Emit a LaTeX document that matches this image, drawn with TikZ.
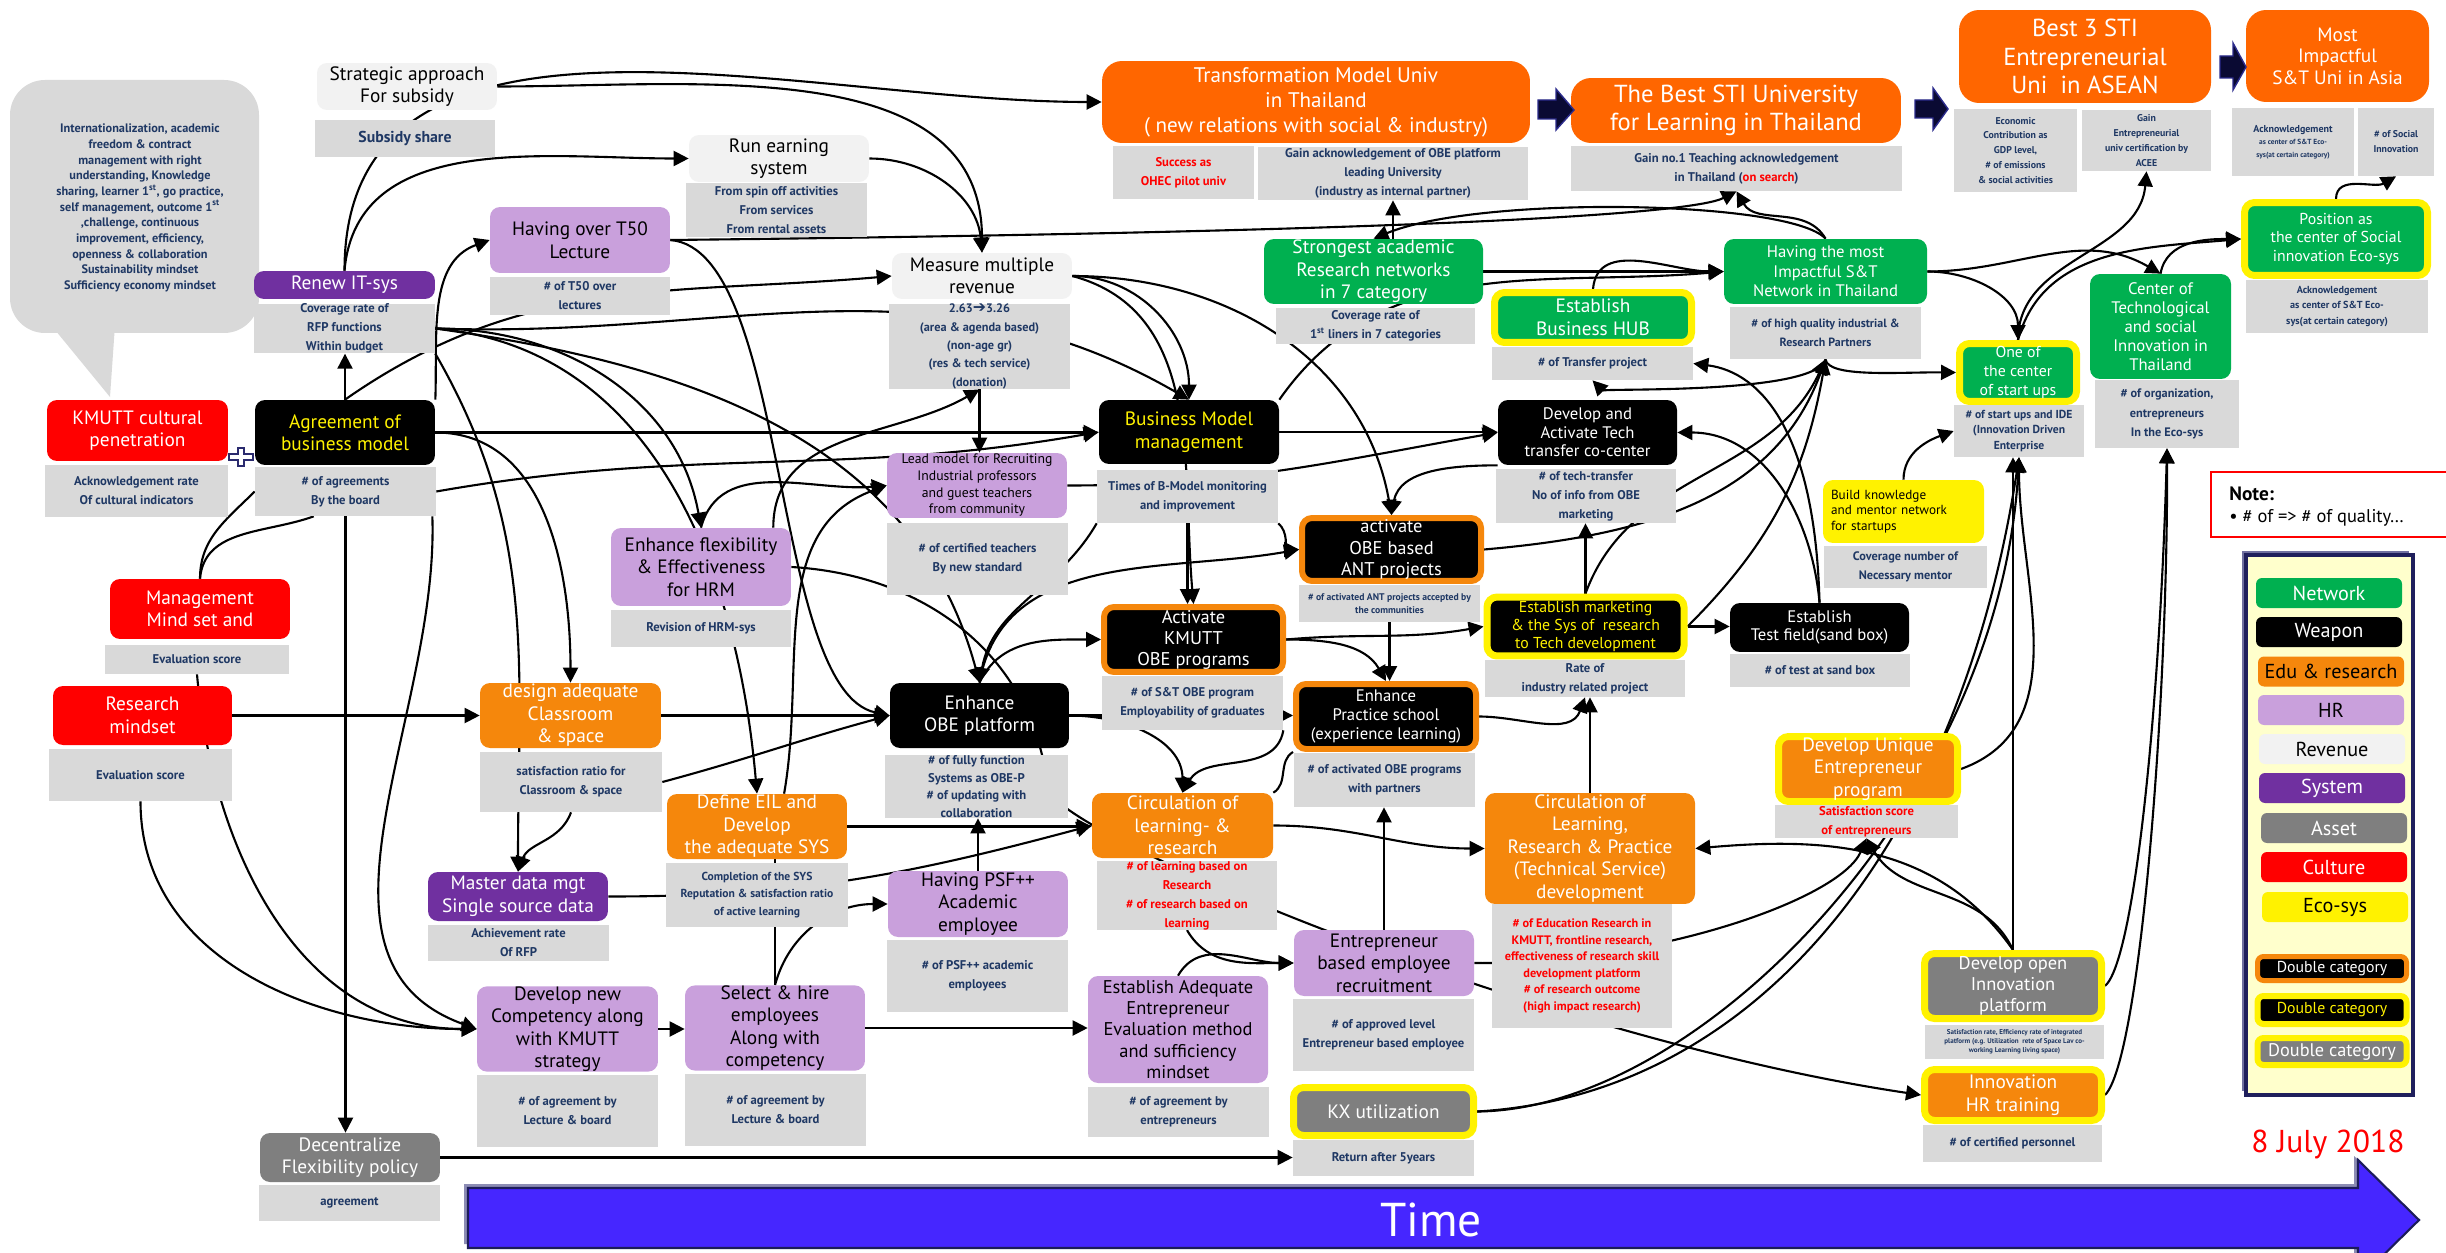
\documentclass[tikz,border=0pt]{standalone}
\usepackage{fontspec}
\setmainfont{PT Sans}
\newfontfamily\symf{DejaVu Sans}
\usepackage{xcolor}
\usetikzlibrary{arrows.meta,calc,backgrounds}
\definecolor{toporange}{HTML}{FF6600}
\definecolor{eduorange}{HTML}{F5870C}
\definecolor{netgreen}{HTML}{00B050}
\definecolor{hrpurple}{HTML}{C9A0DC}
\definecolor{revgray}{HTML}{F2F2F2}
\definecolor{syspurple}{HTML}{7030A0}
\definecolor{assetgray}{HTML}{7F7F7F}
\definecolor{mgray}{HTML}{D9D9D9}
\definecolor{mblue}{HTML}{1F3864}
\definecolor{arrownavy}{HTML}{0A0A33}
\definecolor{arrowrim}{HTML}{2B2B8C}
\definecolor{timeblue}{HTML}{4626FF}
\definecolor{timerim}{HTML}{1C1C5A}
\definecolor{timeshadow}{HTML}{8C8CB4}
\definecolor{legfill}{HTML}{FFFFCC}
\definecolor{legrim}{HTML}{1F1F5C}
\definecolor{legshadow}{HTML}{7070A0}
\definecolor{plusrim}{HTML}{2A2A6E}
\begin{document}
\begin{tikzpicture}[x=0.02cm,y=-0.02cm,
  tbox/.style={rounded corners=0.2cm, align=center, font=\fontsize{11}{12.8}\selectfont},
  topbox/.style={tbox, fill=toporange, text=white, rounded corners=0.4cm},
  netbox/.style={tbox, fill=netgreen, text=white},
  weapon/.style={tbox, fill=black, text=white},
  edubox/.style={tbox, fill=eduorange, text=white},
  hrbox/.style={tbox, fill=hrpurple, text=black},
  revbox/.style={tbox, fill=revgray, text=black},
  sysbox/.style={tbox, fill=syspurple, text=white},
  assetbox/.style={tbox, fill=assetgray, text=white},
  cultbox/.style={tbox, fill=red, text=white},
  ecorim/.style={draw=yellow, line width=0.14cm},
  edurim/.style={draw=eduorange, line width=0.12cm},
  metric/.style={fill=mgray, text=mblue, align=center, font=\bfseries\fontsize{7.2}{10.8}\selectfont},
  redmetric/.style={metric, text=red},
  legitem/.style={tbox, rounded corners=0.12cm, minimum width=2.92cm, minimum height=0.6cm, font=\fontsize{11.5}{13}\selectfont},
  conn/.style={line width=1.2pt, -{Triangle[length=0.3cm,width=0.3cm]}},
  link/.style={line width=1.2pt}]
\tikzstyle{every node}+=[inner sep=0pt]
\useasboundingbox (0,0) rectangle (2446,1253);

\fill[mgray, rounded corners=0.7cm] (10,80) rectangle (259,333);
\fill[mgray] (51,325) -- (110,397) -- (115,325) -- cycle;
\node[text=mblue, align=center, font=\bfseries\fontsize{7}{8.9}\selectfont] (values) at (140,208) {Internationalization, academic\\ freedom \& contract\\ management with right\\ understanding, Knowledge\\ sharing, learner 1\textsuperscript{st}, go practice,\\ self management, outcome 1\textsuperscript{st}\\ ,challenge, continuous\\ improvement, efficiency,\\ openness \& collaboration\\ Sustainability mindset\\ Sufficiency economy mindset};

\node[revbox, minimum width=3.6cm, minimum height=0.94cm] (strat) at (407,86.5) {Strategic approach\\ For subsidy};
\node[metric, font=\bfseries\fontsize{9}{11}\selectfont, minimum width=3.6cm, minimum height=0.74cm] (stratm) at (405,138.5) {Subsidy share};
\node[sysbox, minimum width=3.62cm, minimum height=0.56cm] (renew) at (344.5,285) {Renew IT-sys};
\node[metric, minimum width=3.62cm, minimum height=0.98cm] (renewm) at (344.5,328.5) {Coverage rate of\\ RFP functions\\ Within budget};
\node[hrbox, minimum width=3.6cm, minimum height=1.32cm] (t50) at (580,240) {Having over T50\\ Lecture};
\node[metric, minimum width=3.6cm, minimum height=0.76cm] (t50m) at (580,296) {\# of T50 over\\ lectures};
\node[revbox, minimum width=3.6cm, minimum height=0.94cm] (earn) at (779,158.5) {Run earning\\ system};
\node[metric, minimum width=3.62cm, minimum height=1.08cm] (earnm) at (776.5,210) {From spin off activities\\ From services\\ From rental assets};
\node[revbox, minimum width=3.6cm, minimum height=0.92cm] (measure) at (982,276) {Measure multiple\\ revenue};
\node[metric, font=\bfseries\fontsize{7}{10.5}\selectfont, minimum width=3.62cm, minimum height=1.7cm] (measurem) at (979.5,346.5) {2.63{\symf\fontsize{9}{10.5}\selectfont ➔}3.26\\ (area \& agenda based)\\ (non-age gr)\\ (res \& tech service)\\ (donation)};

\node[topbox, font=\fontsize{12}{14.2}\selectfont, minimum width=8.56cm, minimum height=1.64cm] (transf) at (1316,102) {Transformation Model Univ\\ in Thailand\\ ( new relations with social \& industry)};
\node[redmetric, minimum width=2.82cm, minimum height=1.06cm] (transfm1) at (1183.5,172.5) {Success as\\ OHEC pilot univ};
\node[metric, minimum width=5.4cm, minimum height=1.06cm] (transfm2) at (1393,173.5) {Gain acknowledgement of OBE platform\\ leading University\\ (industry as internal partner)};
\node[topbox, font=\fontsize{14}{16}\selectfont, minimum width=6.6cm, minimum height=1.3cm] (best) at (1736,110.5) {The Best STI University\\ for Learning in Thailand};
\node[metric, minimum width=6.62cm, minimum height=0.9cm] (bestm) at (1736.5,168.5) {Gain no.1 Teaching acknowledgement\\ in Thailand (\textcolor{red}{on search})};
\node[topbox, font=\fontsize{14}{16}\selectfont, minimum width=5.04cm, minimum height=1.86cm] (best3) at (2085,56.5) {Best 3 STI\\ Entrepreneurial\\ Uni\ \ in ASEAN};
\node[metric, font=\bfseries\fontsize{5.6}{8.5}\selectfont, minimum width=2.46cm, minimum height=1.66cm] (best3ma) at (2015.5,150.5) {Economic\\ Contribution as\\ GDP level,\\ \# of emissions\\ \& social activities};
\node[metric, font=\bfseries\fontsize{5.6}{8.5}\selectfont, minimum width=2.58cm, minimum height=1.22cm] (best3mb) at (2146.5,140.5) {Gain\\ Entrepreneurial\\ univ certification by\\ ACEE};
\node[topbox, font=\fontsize{11}{12.3}\selectfont, minimum width=3.66cm, minimum height=1.84cm] (most) at (2337.5,56) {Most\\ Impactful\\ S\&T Uni in Asia};
\node[metric, font=\bfseries\fontsize{5.7}{7}\selectfont, minimum width=2.44cm, minimum height=1.36cm] (mostma) at (2293,142) {Acknowledgement\\ {\fontsize{4.2}{7}\selectfont as center of S\&T Eco-}\\ {\fontsize{4.2}{7}\selectfont sys(at certain category)}};
\node[metric, font=\bfseries\fontsize{5.6}{8.5}\selectfont, minimum width=1.52cm, minimum height=1.36cm] (mostmb) at (2396,142) {\# of Social\\ Innovation};
\filldraw[fill=arrownavy, draw=arrowrim, line width=0.8pt] (1538,100) -- (1556,100) -- (1556,89) -- (1574,110) -- (1556,130) -- (1556,119) -- (1538,119) -- cycle;
\filldraw[fill=arrownavy, draw=arrowrim, line width=0.8pt] (1915,100) -- (1933,100) -- (1933,88) -- (1948,109) -- (1933,130) -- (1933,118) -- (1915,118) -- cycle;
\filldraw[fill=arrownavy, draw=arrowrim, line width=0.8pt] (2220,56) -- (2233,56) -- (2233,43) -- (2246,67) -- (2233,90) -- (2233,78) -- (2220,78) -- cycle;

\node[netbox, minimum width=4.38cm, minimum height=1.3cm] (strong) at (1373.5,271.5) {Strongest academic\\ Research networks\\ in 7 category};
\node[metric, minimum width=3.98cm, minimum height=0.72cm] (strongm) at (1375.5,326) {Coverage rate of\\ 1\textsuperscript{st} liners in 7 categories};
\node[netbox, ecorim, minimum width=3.94cm, minimum height=1.0cm] (hub) at (1593,317.5) {Establish\\ Business HUB};
\node[metric, minimum width=4.02cm, minimum height=0.66cm] (hubm) at (1592.5,363.5) {\# of Transfer project};
\node[netbox, font=\fontsize{9.5}{11}\selectfont, minimum width=4.06cm, minimum height=1.3cm] (having) at (1825.5,271.5) {Having the most\\ Impactful S\&T\\ Network in Thailand};
\node[metric, font=\bfseries\fontsize{6.8}{10.5}\selectfont, minimum width=3.82cm, minimum height=1.04cm] (havingm) at (1825.5,333) {\# of high quality industrial \&\\ Research Partners};
\node[weapon, font=\fontsize{9.5}{10.5}\selectfont, minimum width=3.58cm, minimum height=1.3cm] (devtech) at (1587.5,432.5) {Develop and\\ Activate Tech\\ transfer co-center};
\node[metric, minimum width=3.6cm, minimum height=1.08cm] (devtechm) at (1586,496) {\# of tech-transfer\\ No of info from OBE\\ marketing};
\node[netbox, ecorim, font=\fontsize{9}{10.5}\selectfont, minimum width=3.66cm, minimum height=1.46cm] (position) at (2336,239) {Position as\\ the center of Social\\ innovation Eco-sys};
\node[metric, font=\bfseries\fontsize{5.8}{9}\selectfont, minimum width=3.64cm, minimum height=1.06cm] (positionm) at (2337,306.5) {Acknowledgement\\ as center of S\&T Eco-\\ sys(at certain category)};
\node[netbox, font=\fontsize{9.5}{10.8}\selectfont, minimum width=2.82cm, minimum height=2.1cm] (centech) at (2160.5,326.5) {Center of\\ Technological\\ and social\\ Innovation in\\ Thailand};
\node[metric, font=\bfseries\fontsize{7}{11}\selectfont, minimum width=2.88cm, minimum height=1.36cm] (centechm) at (2167,414) {\# of organization,\\ entrepreneurs\\ In the Eco-sys};
\node[netbox, ecorim, font=\fontsize{9}{10.8}\selectfont, minimum width=2.34cm, minimum height=1.16cm] (onec) at (2018,372.5) {One of\\ the center\\ of start ups};
\node[metric, font=\bfseries\fontsize{6.6}{9}\selectfont, minimum width=2.6cm, minimum height=1.04cm] (onecm) at (2019,431) {\# of start ups and IDE\\ (Innovation Driven\\ Enterprise};
\node[tbox, fill=yellow, text=black, align=left, text width=2.9cm, font=\fontsize{7.5}{9}\selectfont, minimum width=3.22cm, minimum height=1.26cm] (build) at (1903.5,511.5) {Build knowledge\\ and mentor network\\ for startups};
\node[metric, font=\bfseries\fontsize{7}{10.8}\selectfont, minimum width=3.26cm, minimum height=0.84cm] (buildm) at (1905.5,567) {Coverage number of\\ Necessary mentor};
\node[weapon, font=\fontsize{9.5}{10.5}\selectfont, minimum width=3.58cm, minimum height=0.98cm] (testf) at (1819.5,627.5) {Establish\\ Test field(sand box)};
\node[metric, minimum width=3.6cm, minimum height=0.66cm] (testfm) at (1820,670.5) {\# of test at sand box};

\node[draw=red, line width=1.2pt, fill=white, minimum width=4.98cm, minimum height=1.3cm] (note) at (2335.5,504.5) {};
\node[anchor=west, font=\bfseries\fontsize{11}{13}\selectfont] (notehead) at (2229,494) {Note:};
\node[anchor=west, font=\fontsize{10.5}{12}\selectfont] (notetext) at (2229,518) {\textbullet\ \# of => \# of quality…};

\fill[legshadow] (2242,551) rectangle (2409,1091);
\node[draw=legrim, fill=legfill, line width=2pt, minimum width=3.34cm, minimum height=10.8cm] (legend) at (2329.5,825) {};
\node[legitem, fill=netgreen, text=white] (lgnet) at (2329,593) {Network};
\node[legitem, fill=black, text=white] (lgweapon) at (2329,632) {Weapon};
\node[legitem, fill=eduorange, text=black] (lgedu) at (2331,671.5) {Edu \& research};
\node[legitem, fill=hrpurple, text=black] (lghr) at (2331,710) {HR};
\node[legitem, fill=revgray, text=black] (lgrev) at (2332,749) {Revenue};
\node[legitem, fill=syspurple, text=white] (lgsys) at (2332,788) {System};
\node[legitem, fill=assetgray, text=white] (lgasset) at (2334,828) {Asset};
\node[legitem, fill=red, text=white] (lgcult) at (2334,867) {Culture};
\node[legitem, fill=yellow, text=black] (lgeco) at (2335,907) {Eco-sys};
\node[legitem, fill=black, text=white, draw=eduorange, line width=0.1cm, minimum width=2.98cm, minimum height=0.48cm, font=\fontsize{9}{10}\selectfont] (lgdouble) at (2332,968.5) {Double category};
\node[legitem, fill=black, text=yellow, draw=yellow, line width=0.12cm, minimum width=2.98cm, minimum height=0.56cm, font=\fontsize{9}{10}\selectfont] (lgdoubleb) at (2332,1010) {Double category};
\node[legitem, fill=assetgray, text=white, draw=yellow, line width=0.12cm, minimum width=2.98cm, minimum height=0.54cm, font=\fontsize{10.4}{11}\selectfont] (lgdoublec) at (2332,1051.5) {Double category};

\node[cultbox, minimum width=3.62cm, minimum height=1.22cm] (kmutt) at (137.5,430.5) {KMUTT cultural\\ penetration};
\node[metric, minimum width=3.66cm, minimum height=1.04cm] (kmuttm) at (136.5,491) {Acknowledgement rate\\ Of cultural indicators};
\filldraw[fill=white, draw=plusrim, line width=1pt] (238,448) -- (244,448) -- (244,454) -- (253,454) -- (253,460) -- (244,460) -- (244,466) -- (238,466) -- (238,460) -- (229,460) -- (229,454) -- (238,454) -- cycle;
\node[weapon, text=yellow, minimum width=3.6cm, minimum height=1.3cm] (agree) at (345,432.5) {Agreement of\\ business model};
\node[metric, minimum width=3.62cm, minimum height=0.98cm] (agreem) at (345.5,491.5) {\# of agreements\\ By the board};
\node[cultbox, minimum width=3.6cm, minimum height=1.2cm] (mgmt) at (200,609) {Management\\ Mind set and};
\node[metric, minimum width=3.68cm, minimum height=0.58cm] (mgmtm) at (197,659.5) {Evaluation score};
\node[cultbox, minimum width=3.58cm, minimum height=1.18cm] (rmind) at (142.5,715.5) {Research\\ mindset};
\node[metric, minimum width=3.66cm, minimum height=1.04cm] (rmindm) at (140.5,775) {Evaluation score};
\node[edubox, minimum width=3.62cm, minimum height=1.3cm] (design) at (570.5,715.5) {design adequate\\ Classroom\\ \& space};
\node[metric, minimum width=3.64cm, minimum height=1.2cm] (designm) at (571,782) {satisfaction ratio for\\ Classroom \& space};
\node[hrbox, font=\fontsize{7.8}{9.5}\selectfont, minimum width=3.6cm, minimum height=1.3cm] (lead) at (977,485.5) {Lead model for Recruiting\\ Industrial professors\\ and guest teachers\\ from community};
\node[metric, minimum width=3.62cm, minimum height=1.44cm] (leadm) at (977.5,559) {\# of certified teachers\\ By new standard};
\node[weapon, text=yellow, minimum width=3.6cm, minimum height=1.28cm] (biz) at (1189,432) {Business Model\\ management};
\node[metric, minimum width=3.62cm, minimum height=1.06cm] (bizm) at (1187.5,496.5) {Times of B-Model monitoring\\ and improvement};
\node[hrbox, minimum width=3.6cm, minimum height=1.56cm] (flex) at (701,567) {Enhance flexibility\\ \& Effectiveness\\ for HRM};
\node[metric, minimum width=3.6cm, minimum height=0.74cm] (flexm) at (701,628.5) {Revision of HRM-sys};
\node[weapon, edurim, font=\fontsize{10.5}{12}\selectfont, minimum width=3.58cm, minimum height=1.3cm] (activ) at (1193.5,639.5) {Activate\\ KMUTT\\ OBE programs};
\node[metric, minimum width=3.62cm, minimum height=1.08cm] (activm) at (1192.5,703) {\# of S\&T OBE program\\ Employability of graduates};
\node[weapon, minimum width=3.58cm, minimum height=1.3cm] (obe) at (979.5,715.5) {Enhance\\ OBE platform};
\node[metric, font=\bfseries\fontsize{7.2}{10}\selectfont, minimum width=3.66cm, minimum height=1.26cm] (obem) at (976.5,786.5) {\# of fully function\\ Systems as OBE-P\\ \# of updating with\\ collaboration};
\node[edubox, minimum width=3.6cm, minimum height=1.3cm] (define) at (757,826.5) {Define EIL and\\ Develop\\ the adequate SYS};
\node[metric, font=\bfseries\fontsize{6.6}{10}\selectfont, minimum width=3.64cm, minimum height=1.28cm] (definem) at (757,895) {Completion of the SYS\\ Reputation \& satisfaction ratio\\ of active learning};
\node[edubox, minimum width=3.62cm, minimum height=1.3cm] (circ) at (1182.5,825.5) {Circulation of\\ learning- \&\\ research};
\node[redmetric, minimum width=3.6cm, minimum height=1.3cm] (circm) at (1187,895.5) {\# of learning based on\\ Research\\ \# of research based on\\ learning};
\node[weapon, edurim, font=\fontsize{10.5}{12}\selectfont, minimum width=3.58cm, minimum height=1.26cm] (ant) at (1391.5,549.5) {activate\\ OBE based\\ ANT projects};
\node[metric, font=\bfseries\fontsize{5.5}{7.5}\selectfont, minimum width=3.62cm, minimum height=0.74cm] (antm) at (1389.5,603.5) {\# of activated ANT projects accepted by\\ the communities};
\node[weapon, ecorim, text=yellow, font=\fontsize{9}{10.5}\selectfont, minimum width=3.94cm, minimum height=1.18cm] (market) at (1585.5,626.5) {Establish marketing\\ \& the Sys of\ \ research\\ to Tech development};
\node[metric, minimum width=4cm, minimum height=0.74cm] (marketm) at (1585,678.5) {Rate of\\ industry related project};
\node[weapon, edurim, font=\fontsize{9.5}{11}\selectfont, minimum width=3.6cm, minimum height=1.3cm] (practice) at (1386,716.5) {Enhance\\ Practice school\\ (experience learning)};
\node[metric, minimum width=3.62cm, minimum height=1.08cm] (practicem) at (1384.5,780) {\# of activated OBE programs\\ with partners};
\node[edubox, minimum width=4.2cm, minimum height=2.22cm] (circtech) at (1590,848.5) {Circulation of\\ Learning,\\ Research \& Practice\\ (Technical Service)\\ development};
\node[redmetric, font=\bfseries\fontsize{7}{9.4}\selectfont, minimum width=3.6cm, minimum height=2.48cm] (circtechm) at (1582,966) {\# of Education Research in\\ KMUTT, frontline research,\\ effectiveness of research skill\\ development platform\\ \# of research outcome\\ (high impact research)};
\node[edubox, ecorim, minimum width=3.58cm, minimum height=1.3cm] (devuniq) at (1868,769) {Develop Unique\\ Entrepreneur\\ program};
\node[redmetric, minimum width=3.66cm, minimum height=0.66cm] (devuniqm) at (1866.5,821.5) {Satisfaction score\\ of entrepreneurs};
\node[sysbox, minimum width=3.6cm, minimum height=0.98cm] (master) at (518,896.5) {Master data mgt\\ Single source data};
\node[metric, minimum width=3.62cm, minimum height=0.72cm] (masterm) at (518.5,943) {Achievement rate\\ Of RFP};
\node[hrbox, minimum width=3.62cm, minimum height=1.68cm] (newcomp) at (567.5,1029) {Develop new\\ Competency along\\ with KMUTT\\ strategy};
\node[metric, minimum width=3.62cm, minimum height=1.44cm] (newcompm) at (567.5,1111) {\# of agreement by\\ Lecture \& board};
\node[assetbox, minimum width=3.6cm, minimum height=0.98cm] (decent) at (350,1157.5) {Decentralize\\ Flexibility policy};
\node[metric, minimum width=3.62cm, minimum height=0.72cm] (decentm) at (349.5,1203) {agreement};
\node[hrbox, minimum width=3.6cm, minimum height=1.32cm] (psf) at (978,904) {Having PSF++\\ Academic\\ employee};
\node[metric, minimum width=3.62cm, minimum height=1.44cm] (psfm) at (977.5,976) {\# of PSF++ academic\\ employees};
\node[hrbox, minimum width=3.6cm, minimum height=1.68cm] (select) at (775,1028) {Select \& hire\\ employees\\ Along with\\ competency};
\node[metric, minimum width=3.62cm, minimum height=1.44cm] (selectm) at (775.5,1110) {\# of agreement by\\ Lecture \& board};
\node[hrbox, font=\fontsize{10.5}{12.2}\selectfont, minimum width=3.6cm, minimum height=2.14cm] (estab) at (1178,1029.5) {Establish Adequate\\ Entrepreneur\\ Evaluation method\\ and sufficiency\\ mindset};
\node[metric, minimum width=3.62cm, minimum height=1.0cm] (estabm) at (1178.5,1112) {\# of agreement by\\ entrepreneurs};
\node[hrbox, minimum width=3.6cm, minimum height=1.32cm] (entre) at (1384,963) {Entrepreneur\\ based employee\\ recruitment};
\node[metric, minimum width=3.62cm, minimum height=1.44cm] (entrem) at (1383.5,1035) {\# of approved level\\ Entrepreneur based employee};
\node[assetbox, ecorim, minimum width=3.6cm, minimum height=0.96cm] (kx) at (1383.5,1111.5) {KX utilization};
\node[metric, minimum width=3.62cm, minimum height=0.72cm] (kxm) at (1383.5,1158) {Return after 5years};
\node[assetbox, ecorim, font=\fontsize{10.5}{12}\selectfont, minimum width=3.54cm, minimum height=1.3cm] (openi) at (2013,986) {Develop open\\ Innovation\\ platform};
\node[metric, font=\bfseries\fontsize{4}{5.2}\selectfont, minimum width=3.58cm, minimum height=0.68cm] (openim) at (2014.5,1042) {Satisfaction rate, Efficiency rate of integrated\\ platform (e.g. Utilization\ \ rete of Space Lav co-\\ working Learning living space)};
\node[edubox, ecorim, minimum width=3.54cm, minimum height=1.02cm] (innohr) at (2013,1095) {Innovation\\ HR training};
\node[metric, minimum width=3.58cm, minimum height=0.74cm] (innohrm) at (2012.5,1143.5) {\# of certified personnel};
\node[text=red, font=\fontsize{18}{20}\selectfont] (date) at (2328,1144) {8 July 2018};

\fill[timeshadow] (464,1184) -- (2354,1184) -- (2354,1156) -- (2415,1216) -- (2354,1276) -- (2354,1244) -- (464,1244) -- cycle;
\filldraw[fill=timeblue, draw=timerim, line width=1.2pt] (468,1188) -- (2358,1188) -- (2358,1160) -- (2419,1220) -- (2358,1280) -- (2358,1248) -- (468,1248) -- cycle;
\node[text=white, font=\fontsize{27}{30}\selectfont] (timelabel) at (1431,1220) {Time};

\begin{scope}[on background layer]
\fill[white] (0,0) rectangle (2446,1253);
\draw[conn] (renew.north) to[out=90,in=180] (transf.west);
\draw[conn] (renew.north) to[out=85,in=180] (earn.west);
\draw[conn] (strat.east) to[out=0,in=90] (measure.north);
\draw[conn] (earn.east) to[out=0,in=95] (measure.north);
\draw[conn] (agree.north) -- (agree.north |- renewm.south);
\draw[conn] (agree.north east) to[out=88,in=200] (t50.west);
\draw[conn] (agree.north) to[out=35,in=185] (measure.west);
\draw[conn] (agree.east) -- (agree.east -| biz.west);
\draw[conn] (agreem.east) to[out=10,in=190] (biz.west);
\draw[conn] (rmind.east) -- (rmind.east -| design.west);
\draw[conn] (agreem.south) -- (agreem.south |- decent.north);
\draw[conn] (decent.east) -- (decent.east -| kxm.west);
\draw[link] (mgmt.north) to[out=90,in=225] (agreem.west);
\draw[link] (mgmt.north) to[out=85,in=200] ($(agreem.south)!0.35!(agreem.south west)$);
\draw[conn] (mgmtm.south) to[out=-85,in=180] (newcomp.west);
\draw[conn] (rmindm.south) to[out=-90,in=180] (newcomp.west);
\draw[conn] ([xshift=-0.08cm]agreem.south east) to[out=-88,in=160] (newcomp.west);
\draw[conn] (agree.east) to[out=0,in=90] (design.north);
\draw[conn] (renewm.south east) to[out=-60,in=90] (master.north);
\draw[conn] (designm.south) to[out=-110,in=70] (master.north);
\draw[conn] (renewm.east) to[out=0,in=100] (flex.north);
\draw[conn] (renewm.east) to[out=-5,in=95] (define.north);
\draw[conn] (renewm.east) to[out=-8,in=105] (obe.north);
\draw[conn] (renewm.east) to[out=-2,in=150] (biz.north);
\draw[conn] (t50.east) .. controls (1400,232) and (1690,215) .. (bestm.south);
\draw[conn] (t50.east) .. controls (790,250) and (770,690) .. (obe.west);
\draw[conn] ($(flex.north)!0.8!(flex.north east)$) to[out=90,in=-150] (measurem.south);
\draw[conn] (measure.east) to[out=0,in=90] (biz.north);
\draw[conn] (measure.east) to[out=0,in=100] (ant.north);
\draw[conn] (measure.east) to[out=-15,in=95] (activ.north);
\draw[conn] (measurem.south) -- (measurem.south |- lead.north);
\draw[conn] (flex.north) to[out=75,in=185] (lead.west);
\draw[conn] ($(define.north)!0.3!(define.north east)$) to[out=80,in=200] (lead.west);
\draw[conn] (flex.east) .. controls (930,575) and (1035,660) .. (1048,790) .. controls (1070,840) and (1550,1040) .. (innohr.west);
\draw[conn] (design.east) -- (design.east -| obe.west);
\draw[conn] (designm.east) to[out=15,in=195] (obe.west);
\draw[conn] (obe.north) to[out=65,in=180] (activ.west);
\draw[conn] (obe.north) to[out=80,in=190] (ant.west);
\draw[conn] (bizm.south west) to[out=-120,in=80] (obe.north);
\draw[conn] (bizm.south) -- (bizm.south |- activ.north);
\draw[conn] (bizm.south east) to[out=-40,in=180] (ant.west);
\draw[conn] (biz.east) -- (biz.east -| devtech.west);
\draw[conn] (biz.north east) to[out=55,in=185] (having.west);
\draw[conn] (lead.east) to[out=0,in=190] (devtech.west);
\draw[conn] (obe.east) -- (obe.east -| practice.west);
\draw[conn] (obe.east) to[out=0,in=90] (circ.north);
\draw[conn] (activm.south east) to[out=-100,in=60] (circ.north);
\draw[link] (practice.south west) to[out=210,in=30] (circ.north east);
\draw[conn] (activ.east) to[out=0,in=120] (practice.north);
\draw[conn] (activ.east) to[out=5,in=190] (market.west);
\draw[conn] (antm.south) -- (antm.south |- practice.north);
\draw[conn] (ant.east) to[out=5,in=-110] (havingm.south);
\draw[conn] (devtech.south west) to[out=180,in=80] (ant.north);
\draw[conn] (market.north) -- (market.north |- devtechm.south);
\draw[conn] (market.north) to[out=70,in=-115] (havingm.south);
\draw[conn] (market.east) -- (market.east -| testf.west);
\draw[conn] (market.east) to[out=45,in=-100] (havingm.south);
\draw[conn] (practice.east) to[out=0,in=-110] (marketm.south);
\draw[conn] (circtech.north) -- (circtech.north |- marketm.south);
\draw[conn] (testf.north) to[out=95,in=0] (devtech.east);
\draw[conn] (testf.north) .. controls (1815,430) and (1760,372) .. (hubm.east);
\draw[conn] (havingm.south) .. controls (1815,395) and (1600,388) .. (hubm.south);
\draw[conn] (havingm.south) .. controls (1828,378) and (1900,372) .. (onec.west);
\draw[conn] (strong.east) -- (strong.east -| having.west);
\draw[conn] (hub.north) to[out=85,in=180] (having.west);
\draw[conn] (strong.north -| transfm2.south) -- (transfm2.south);
\draw[conn] (having.north) .. controls (1790,200) and (1480,195) .. (strong.north);
\draw[conn] (having.north) to[out=120,in=-60] (bestm.south);
\draw[conn] (having.east) to[out=0,in=150] (centech.north);
\draw[conn] (having.east) to[out=0,in=90] (onec.north);
\draw[conn] (centech.north) to[out=80,in=180] (position.west);
\draw[conn] (onec.north) to[out=75,in=185] (position.west);
\draw[conn] (onec.north) to[out=90,in=-95] (best3mb.south);
\draw[conn] (position.north) to[out=90,in=-150] (mostmb.south);
\draw[conn] (build.north) to[out=90,in=200] (onecm.west);
\draw[conn] (devuniq.east) to[out=20,in=-90] (onecm.south);
\draw[conn] (openi.north) -- (openi.north |- onecm.south);
\draw[conn] (kx.east) .. controls (1700,1110) and (2000,800) .. (onecm.south);
\draw[conn] (kx.east) .. controls (1760,1095) and (1960,840) .. (onecm.south);
\draw[conn] (openi.north) to[out=115,in=-60] (devuniqm.south);
\draw[conn] (openi.north) to[out=125,in=5] (circtech.east);
\draw[conn] (openi.east) .. controls (2135,960) and (2160,700) .. (centechm.south);
\draw[conn] (innohr.east) .. controls (2140,1060) and (2168,700) .. (centechm.south);
\draw[conn] (entre.east) .. controls (1650,965) and (1840,900) .. (devuniqm.south);
\draw[conn] (entre.north) -- (entre.north |- practicem.south);
\draw[conn] (circ.east) to[out=0,in=180] (circtech.west);
\draw[conn] (circm.south) to[out=-60,in=180] (entre.west);
\draw[conn] (estab.north) to[out=60,in=180] (entre.west);
\draw[conn] (select.east) -- (select.east -| estab.west);
\draw[conn] (newcomp.east) -- (newcomp.east -| select.west);
\draw[link] (select.north) -- (select.north |- define.south);
\draw[conn] (select.north) to[out=75,in=180] (psf.west);
\draw[conn] (psf.north) -- (psf.north |- obem.south);
\draw[conn] (define.east) -- (define.east -| circ.west);
\draw[conn] (master.east) to[out=0,in=195] (circ.west);
\end{scope}
\end{tikzpicture}
\end{document}
